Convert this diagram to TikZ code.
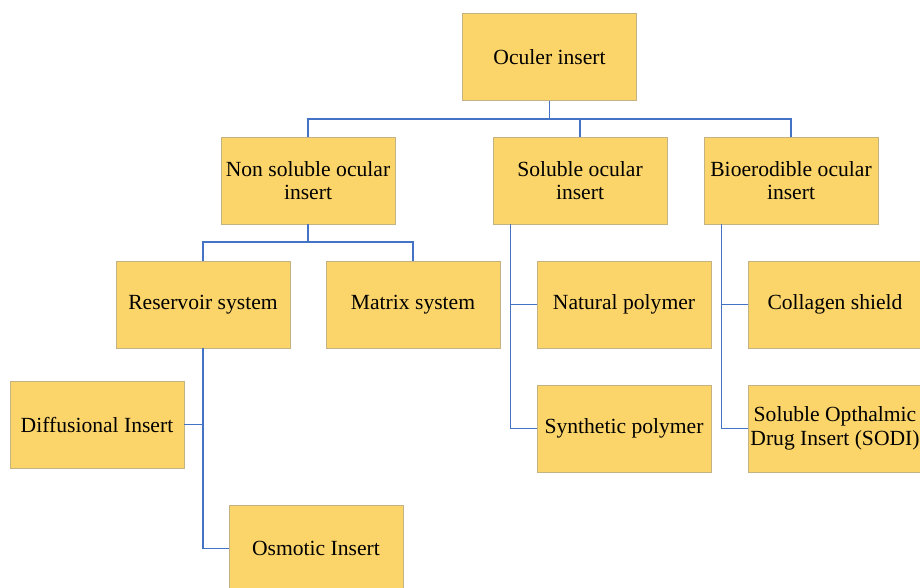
\documentclass[tikz,border=0pt]{standalone}
\usepackage{fontspec}
\setmainfont{Liberation Serif}
\definecolor{boxfill}{RGB}{252,213,106}
\definecolor{boxline}{RGB}{196,178,130}
\definecolor{linkblue}{RGB}{68,114,196}
\begin{document}
\begin{tikzpicture}[x=1pt,y=-1pt,
  box/.style={draw=boxline,line width=0.9pt,fill=boxfill,minimum width=174pt,minimum height=87pt,
    inner sep=0pt,align=center,font=\fontsize{21.6}{23.5}\selectfont},
  link/.style={draw=linkblue,line width=1.3pt}]
\useasboundingbox (0,0) rectangle (920,587);
\node[box] (oc) at (549.5,57) {Oculer insert};
\node[box] (ns) at (308,180.5) {Non soluble ocular\\insert};
\node[box] (so) at (580,180.5) {Soluble ocular\\insert};
\node[box] (bio) at (791,180.5) {Bioerodible ocular\\insert};
\node[box] (res) at (203,304.5) {Reservoir system};
\node[box] (mat) at (413,304.5) {Matrix system};
\node[box] (nat) at (624,304.5) {Natural polymer};
\node[box] (col) at (835,304.5) {Collagen shield};
\node[box] (dif) at (97,424.5) {Diffusional Insert};
\node[box] (osm) at (316,548.5) {Osmotic Insert};
\node[box] (syn) at (624,428.5) {Synthetic polymer};
\node[box] (sodi) at (835,428.5) {Soluble Opthalmic\\Drug Insert (SODI)};
\coordinate (bus1) at (549.5,119);
\coordinate (bus2) at (308,242);
\coordinate (sv) at ([xshift=18pt]so.south west);
\coordinate (bv) at ([xshift=18pt]bio.south west);
\draw[link] (oc.south) -- (bus1);
\draw[link] (ns.north) |- (bus1) -| (bio.north);
\draw[link] (so.north) -- (so.north |- bus1);
\draw[link] (ns.south) -- (bus2);
\draw[link] (res.north) |- (bus2) -| (mat.north);
\draw[link] (sv) |- (syn.west);
\draw[link] (nat.west) -- (nat.west -| sv);
\draw[link] (bv) |- (sodi.west);
\draw[link] (col.west) -- (col.west -| bv);
\draw[link] (res.south) |- (osm.west);
\draw[link] (dif.east) -- (dif.east -| res.south);
\end{tikzpicture}
\end{document}
